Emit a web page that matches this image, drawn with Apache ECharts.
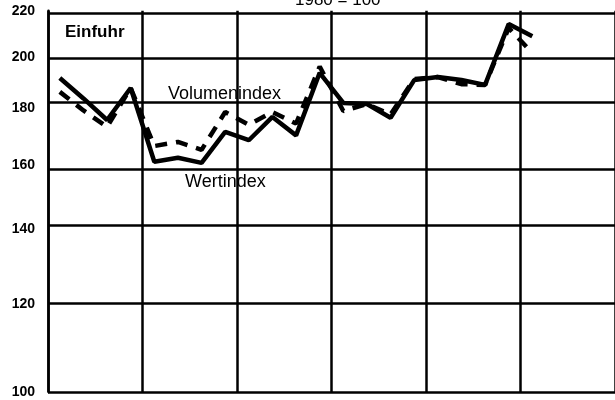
<!DOCTYPE html>
<html>
<head>
<meta charset="utf-8">
<script src="https://cdn.jsdelivr.net/npm/echarts@6/dist/echarts.min.js"></script>
<style>
  html, body { margin: 0; padding: 0; background: #fff; }
  #chart { width: 615px; height: 400px; }
</style>
</head>
<body>
<div id="chart"></div>
<script>
// Quartale, 6 Jahre (nur fuer die Achse, keine Beschriftung)
var quarters = [];
for (var y = 1; y <= 6; y++) {
  for (var q = 1; q <= 4; q++) quarters.push(y + '/' + q);
}

// Einfuhr, 1980 = 100
var wertindex = [191.4, 183.5, 175.5, 187.5, 161.0, 162.3, 160.6, 171.2, 168.3, 176.6, 170.0,
  193.5, 181.8, 181.4, 176.3, 190.6, 191.8, 190.6, 188.7, 214.0, 208.7];
var volumenindex = [186.0, 179.0, 173.0, 187.5, 166.3, 167.7, 165.0, 178.4, 173.8, 178.4, 174.2,
  196.0, 178.8, 181.4, 177.5, 191.0, 191.8, 189.0, 188.7, 212.3, 201.6];

// Teilstriche der logarithmischen y-Achse
var yTicks = [100, 120, 140, 160, 180, 200, 220];

var log10 = function (v) { return Math.log(v) / Math.LN10; };

var myChart = echarts.init(document.getElementById('chart'));

var option = {
  animation: false,
  backgroundColor: '#fff',
  title: {
    text: '1980 = 100',
    left: 290,
    top: -13,
    textStyle: { fontFamily: 'Liberation Sans', fontSize: 17, fontWeight: 'normal', color: '#000' }
  },
  grid: { left: 48, width: 570, top: 10.7, bottom: 8 },
  xAxis: {
    type: 'category',
    data: quarters,
    boundaryGap: true,
    axisLine: { show: false },
    axisTick: { show: false },
    axisLabel: { show: false },
    splitLine: { show: true, interval: 3, lineStyle: { color: '#000', width: 2.5 } }
  },
  yAxis: {
    type: 'value',
    min: log10(100),
    max: log10(220),
    axisLine: { show: true, lineStyle: { color: '#000', width: 2.5 } },
    axisTick: { show: false },
    splitLine: { show: false },
    axisLabel: {
      customValues: yTicks.map(log10),
      margin: 13,
      fontFamily: 'Liberation Sans',
      fontSize: 14,
      fontWeight: 'bold',
      color: '#000',
      formatter: function (v) { return Math.round(Math.pow(10, v)); }
    }
  },
  graphic: [
    { type: 'text', left: 65, top: 24, style: { text: 'Einfuhr', font: 'bold 17px "Liberation Sans"', fill: '#000' } },
    { type: 'text', left: 168, top: 85, style: { text: 'Volumenindex', font: '18px "Liberation Sans"', fill: '#000' } },
    { type: 'text', left: 185, top: 173, style: { text: 'Wertindex', font: '18px "Liberation Sans"', fill: '#000' } }
  ],
  series: [
    {
      name: 'Gitter',
      type: 'line',
      data: [],
      markLine: {
        silent: true,
        symbol: 'none',
        label: { show: false },
        lineStyle: { color: '#000', width: 2.5, type: 'solid' },
        data: yTicks.map(function (t) { return { yAxis: log10(t) }; })
      }
    },
    {
      name: 'Volumenindex',
      type: 'line',
      data: volumenindex.map(log10),
      symbol: 'none',
      lineStyle: { color: '#000', width: 4.5, type: [12, 9] },
      z: 3
    },
    {
      name: 'Wertindex',
      type: 'line',
      data: wertindex.map(log10),
      symbol: 'none',
      lineStyle: { color: '#000', width: 4.5 },
      z: 4
    }
  ]
};

myChart.setOption(option);
</script>
</body>
</html>
